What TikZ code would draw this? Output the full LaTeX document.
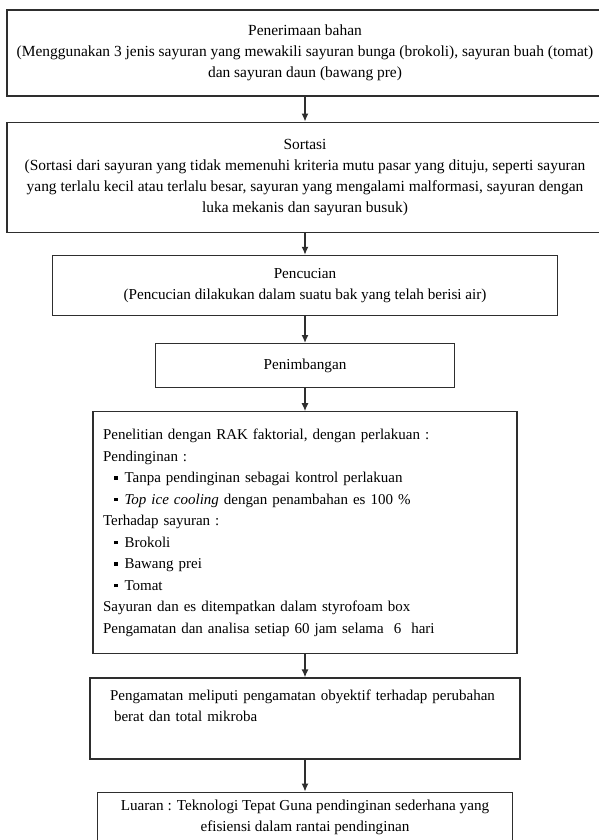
\documentclass[tikz,border=0pt]{standalone}
\usepackage{fontspec}
\setmainfont{Liberation Serif}
\usetikzlibrary{positioning,arrows.meta}
\definecolor{lineGray}{HTML}{2E2E2E}
\newcommand{\sqitem}{\hspace*{11pt}\rule[3pt]{3.5pt}{3.5pt}\hspace{7pt}}

\begin{document}
\begin{tikzpicture}[x=1pt, y=-1pt, font=\fontsize{15.2}{21}\selectfont,
      box/.style={draw=lineGray, line width=1.2pt, align=center, inner sep=0pt},
      wide/.style={font=\fontsize{15.45}{21}\selectfont},
      arr/.style={-{Latex[length=8pt,width=7pt]}, line width=1.4pt, lineGray}]
    \useasboundingbox (0,0) rectangle (598,840);
    \node[box, wide, minimum width=596pt, minimum height=86pt] (terima) at (305,53)
      {Penerimaan bahan\\(Menggunakan 3 jenis sayuran yang mewakili sayuran bunga (brokoli), sayuran buah (tomat)\\dan sayuran daun (bawang pre)};
    \node[box, wide, minimum width=596pt, minimum height=110pt, below=25pt of terima] (sortasi)
      {Sortasi\\(Sortasi dari sayuran yang tidak memenuhi kriteria mutu pasar yang dituju, seperti sayuran\\yang terlalu kecil atau terlalu besar, sayuran yang mengalami malformasi, sayuran dengan\\luka mekanis dan sayuran busuk)};
    \node[box, minimum width=505pt, minimum height=60pt, below=22pt of sortasi] (cuci)
      {Pencucian\\(Pencucian dilakukan dalam suatu bak yang telah berisi air)};
    \node[box, minimum width=299pt, minimum height=44pt, below=27pt of cuci] (timbang) {Penimbangan};
    \node[box, align=left, text width=404pt, minimum width=424pt, minimum height=242pt,
          below=23pt of timbang, font=\fontsize{15}{21.5}\selectfont] (rak)
      {Penelitian dengan RAK faktorial, dengan perlakuan :\\
       Pendinginan :\\
       \sqitem Tanpa pendinginan sebagai kontrol perlakuan\\
       \sqitem \textit{Top ice cooling} dengan penambahan es 100 \%\\
       Terhadap sayuran :\\
       \sqitem Brokoli\\
       \sqitem Bawang prei\\
       \sqitem Tomat\\
       Sayuran dan es ditempatkan dalam styrofoam box\\
       Pengamatan dan analisa setiap 60 jam selama \ 6 \ hari};
    \node[box, align=left, text width=390pt, minimum width=430pt, minimum height=81pt,
          below=23pt of rak, font=\fontsize{15}{21}\selectfont] (amat)
      {Pengamatan meliputi pengamatan obyektif terhadap perubahan\\
       \hspace*{4pt}berat dan total mikroba\\[4pt]\mbox{}};
    \node[box, minimum width=415pt, minimum height=51pt, below=32pt of amat] (luaran)
      {Luaran : Teknologi Tepat Guna pendinginan sederhana yang\\efisiensi dalam rantai pendinginan};
    \draw[arr] (terima) -- (sortasi);
    \draw[arr] (sortasi) -- (cuci);
    \draw[arr] (cuci) -- (timbang);
    \draw[arr] (timbang) -- (rak);
    \draw[arr] (rak) -- (amat);
    \draw[arr] (amat) -- (luaran);
\end{tikzpicture}
\end{document}
